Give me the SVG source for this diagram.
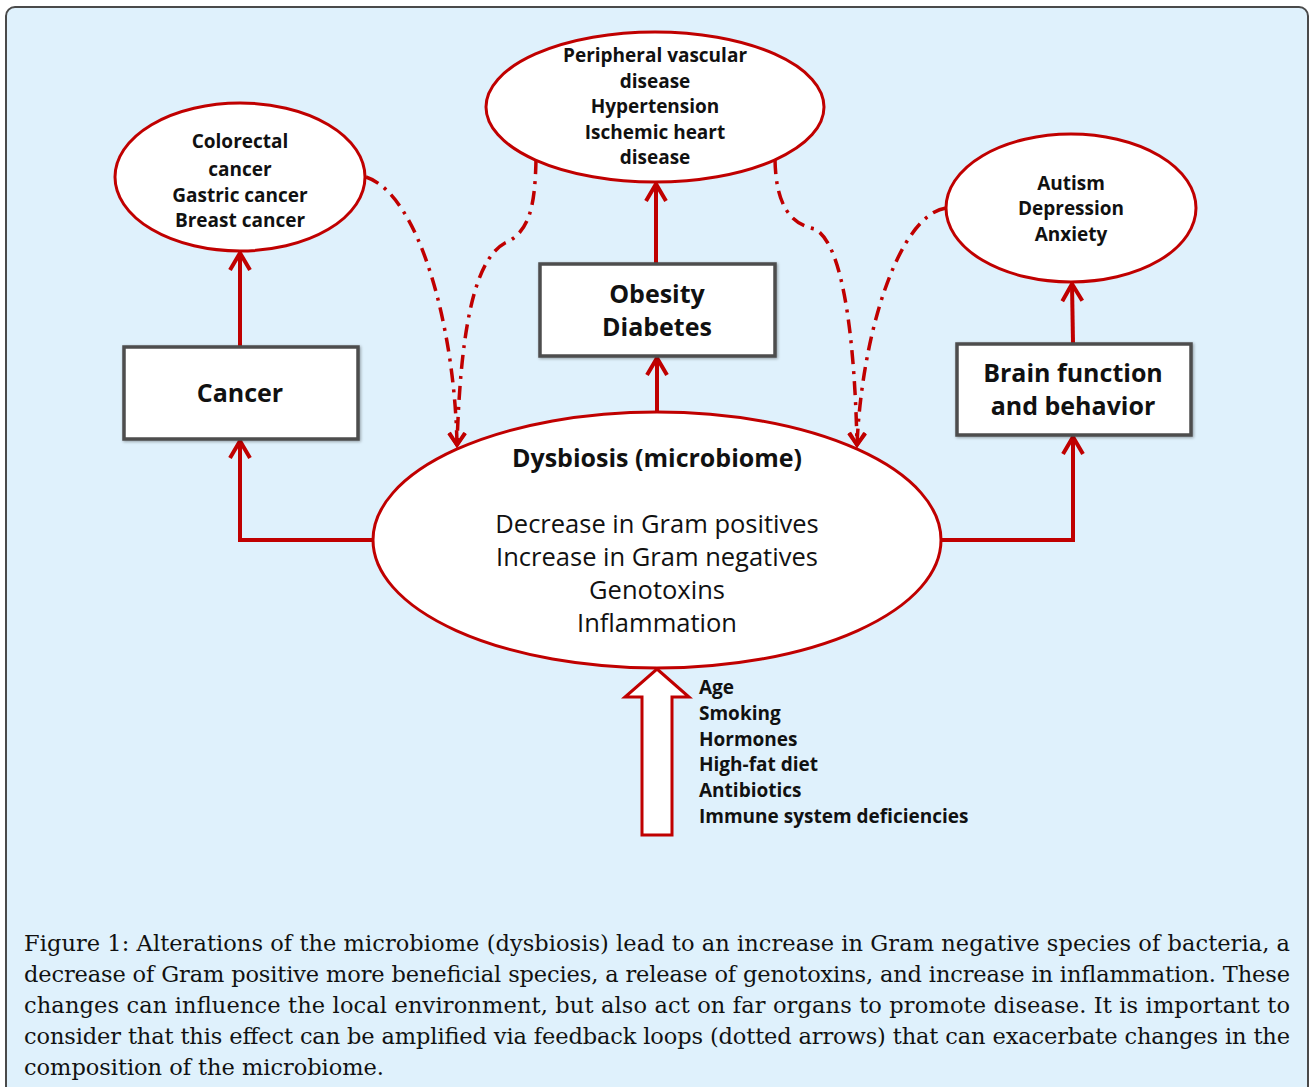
<svg xmlns="http://www.w3.org/2000/svg" width="1310" height="1087" viewBox="0 0 1310 1087">
<defs>
<style>
.bg{fill:#dff1fc;stroke:#4a4a4a;stroke-width:2}
.ell{fill:#fff;stroke:#c00000;stroke-width:3}
.box{fill:#fff;stroke:#4d4d4d;stroke-width:3.5}
.t{font-family:"Open Sans","Noto Sans",sans-serif;font-weight:700;fill:#111;text-anchor:middle}
.s{font-size:19px}
.b{font-size:25px}
.r{font-family:"Open Sans","Noto Sans",sans-serif;font-weight:400;fill:#111;text-anchor:middle;font-size:25.5px}
.f{font-family:"Open Sans","Noto Sans",sans-serif;font-weight:700;fill:#111;font-size:19px}
.cap{font-family:"DejaVu Serif","Liberation Serif",serif;font-size:22.5px;fill:#111}
.solid{fill:none;stroke:#c00000;stroke-width:4;marker-end:url(#ah)}
.dash{fill:none;stroke:#c00000;stroke-width:3.5;stroke-dasharray:14 7 3 7}
</style>
<marker id="ah" markerUnits="userSpaceOnUse" viewBox="-20 -14 24 28" refX="0" refY="0" markerWidth="24" markerHeight="28" orient="auto">
<path d="M-17,-10 L0,0 L-17,10" fill="none" stroke="#c00000" stroke-width="4" stroke-linejoin="miter"/>
</marker>
<marker id="ahd" markerUnits="userSpaceOnUse" viewBox="-16 -12 20 24" refX="0" refY="0" markerWidth="20" markerHeight="24" orient="auto">
<path d="M-12,-8 L0,0 L-12,8" fill="none" stroke="#c00000" stroke-width="3.5"/>
</marker>
<filter id="sh" x="-10%" y="-10%" width="120%" height="120%">
<feDropShadow dx="1" dy="1" stdDeviation="1.5" flood-color="#000" flood-opacity="0.35"/>
</filter>
</defs>
<rect class="bg" x="6" y="7" width="1302" height="1092" rx="9"/>

<g id="connectors">
<path class="solid" d="M373,540 L240,540 L240,441"/>
<path class="solid" d="M240,346 L240,253"/>
<path class="solid" d="M657,412 L657,358"/>
<path class="solid" d="M656,263 L656,184"/>
<path class="solid" d="M941,540 L1073,540 L1073,437"/>
<path class="solid" d="M1073,343 L1072,284"/>
<path class="dash" d="M366,177 C420,195 455,330 457,445" marker-end="url(#ahd)"/>
<path class="dash" d="M536,160 C535,205 530,232 505,243 C470,262 460,350 457,445" marker-end="url(#ahd)"/>
<path class="dash" d="M775,160 C776,205 790,224 815,229 C845,245 855,350 857,445" marker-end="url(#ahd)"/>
<path class="dash" d="M946,208 C900,215 862,330 857,445" marker-end="url(#ahd)"/>
</g>

<g id="node-cancer-types">
<ellipse class="ell" cx="240" cy="177" rx="125" ry="74"/>
<text class="t s" x="240" y="148">Colorectal</text>
<text class="t s" x="240" y="176">cancer</text>
<text class="t s" x="240" y="202">Gastric cancer</text>
<text class="t s" x="240" y="227">Breast cancer</text>
</g>

<g id="node-cardio">
<ellipse class="ell" cx="655" cy="107" rx="169" ry="75"/>
<text class="t s" x="655" y="62">Peripheral vascular</text>
<text class="t s" x="655" y="88">disease</text>
<text class="t s" x="655" y="113">Hypertension</text>
<text class="t s" x="655" y="139">Ischemic heart</text>
<text class="t s" x="655" y="164">disease</text>
</g>

<g id="node-mental">
<ellipse class="ell" cx="1071" cy="208" rx="125" ry="74"/>
<text class="t s" x="1071" y="190">Autism</text>
<text class="t s" x="1071" y="215">Depression</text>
<text class="t s" x="1071" y="241">Anxiety</text>
</g>

<g id="node-cancer">
<rect class="box" x="124" y="347" width="234" height="92" filter="url(#sh)"/>
<text class="t b" x="240" y="402">Cancer</text>
</g>

<g id="node-obesity">
<rect class="box" x="540" y="264" width="235" height="92" filter="url(#sh)"/>
<text class="t b" x="657" y="303">Obesity</text>
<text class="t b" x="657" y="336">Diabetes</text>
</g>

<g id="node-brain">
<rect class="box" x="957" y="344" width="234" height="91" filter="url(#sh)"/>
<text class="t b" x="1073" y="382">Brain function</text>
<text class="t b" x="1073" y="415">and behavior</text>
</g>

<g id="node-dysbiosis">
<ellipse class="ell" cx="657" cy="540" rx="284" ry="128"/>
<text class="t" x="657" y="467" font-size="25">Dysbiosis (microbiome)</text>
<text class="r" x="657" y="533">Decrease in Gram positives</text>
<text class="r" x="657" y="566">Increase in Gram negatives</text>
<text class="r" x="657" y="599">Genotoxins</text>
<text class="r" x="657" y="632">Inflammation</text>
</g>

<g id="node-factors">
<polygon points="657,669 689,697 672,697 672,835 642,835 642,697 625,697" fill="#fff" stroke="#c00000" stroke-width="3"/>
<text class="f" x="699" y="694">Age</text>
<text class="f" x="699" y="720">Smoking</text>
<text class="f" x="699" y="746">Hormones</text>
<text class="f" x="699" y="771">High-fat diet</text>
<text class="f" x="699" y="797">Antibiotics</text>
<text class="f" x="699" y="823">Immune system deficiencies</text>
</g>

<g id="caption">
<text class="cap" x="24" y="951" textLength="1266" lengthAdjust="spacing">Figure 1: Alterations of the microbiome (dysbiosis) lead to an increase in Gram negative species of bacteria, a</text>
<text class="cap" x="24" y="982" textLength="1266" lengthAdjust="spacing">decrease of Gram positive more beneficial species, a release of genotoxins, and increase in inflammation. These</text>
<text class="cap" x="24" y="1013" textLength="1266" lengthAdjust="spacing">changes can influence the local environment, but also act on far organs to promote disease. It is important to</text>
<text class="cap" x="24" y="1044" textLength="1266" lengthAdjust="spacing">consider that this effect can be amplified via feedback loops (dotted arrows) that can exacerbate changes in the</text>
<text class="cap" x="24" y="1075" textLength="360" lengthAdjust="spacing">composition of the microbiome.</text>
</g>
</svg>
